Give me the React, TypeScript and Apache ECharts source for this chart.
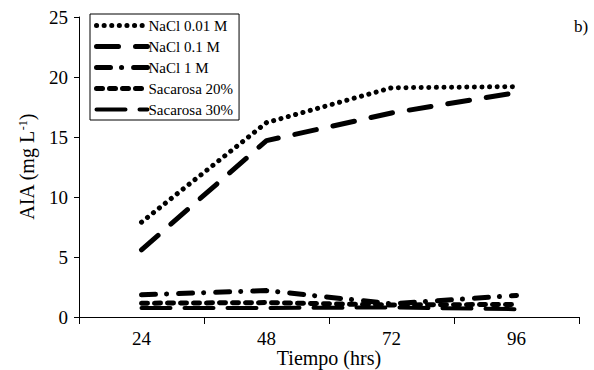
import React, { useEffect, useRef } from "react";
import * as echarts from "echarts";

const categories = ["24", "48", "72", "96"];
const seriesNames = ["NaCl 0.01 M", "NaCl 0.1 M", "NaCl 1 M", "Sacarosa 20%", "Sacarosa 30%"];
const nacl001 = [7.9, 16.2, 19.1, 19.2];
const nacl01 = [5.6, 14.7, 17.0, 18.7];
const nacl1 = [1.85, 2.2, 1.1, 1.8];
const sac20 = [1.15, 1.2, 1.0, 1.05];
const sac30 = [0.75, 0.75, 0.8, 0.65];

const FONT = "Liberation Serif";

const dashTypes: number[][] = [
  [0.1, 7.5],
  [22, 17],
  [14, 11, 0.1, 12],
  [6, 7],
  [29, 14],
];
const widths = [5, 5, 5, 5, 4];
const values = [nacl001, nacl01, nacl1, sac20, sac30];

export default function App() {
  const ref = useRef<HTMLDivElement>(null);
  useEffect(() => {
    if (!ref.current) return;
    const chart = echarts.init(ref.current, undefined, { renderer: "svg" });
    chart.setOption({
      animation: false,
      textStyle: { fontFamily: FONT },
      grid: { left: 79, right: 15, top: 17, bottom: 53, containLabel: false, outerBoundsMode: "none" },
      legend: {
        orient: "vertical",
        left: 90,
        top: 14,
        data: seriesNames.map((n, i) => ({
          name: n,
          lineStyle: { color: "#000", width: widths[i], type: dashTypes[i], cap: "round" },
          itemStyle: { color: "rgba(0,0,0,0)", borderColor: "rgba(0,0,0,0)", borderWidth: 0, opacity: 0 },
        })),
        borderColor: "#000",
        borderWidth: 1,
        padding: [4, 6, 3, 4],
        itemGap: 6,
        itemWidth: 51,
        itemHeight: 14,
        textStyle: { fontFamily: FONT, fontSize: 15, color: "#000", padding: [0, 0, 0, -4] },
      },
      graphic: [
        { type: "text", left: 574, top: 18, style: { text: "b)", font: `17px ${FONT}`, fill: "#000" } },
      ],
      xAxis: {
        type: "category",
        data: categories,
        boundaryGap: true,
        name: "Tiempo (hrs)",
        nameLocation: "middle",
        nameGap: 31,
        nameMoveOverlap: false,
        nameTextStyle: { fontFamily: FONT, fontSize: 20, color: "#000", lineHeight: 20 },
        axisLine: { lineStyle: { color: "#000", width: 1 } },
        axisTick: { show: true, length: 7, inside: false, lineStyle: { color: "#000" } },
        axisLabel: { fontFamily: FONT, fontSize: 19, color: "#000", margin: 12 },
      },
      yAxis: {
        type: "value",
        min: 0,
        max: 25,
        interval: 5,
        name: "{a|AIA (mg L}{s|-1}{a|)}",
        nameLocation: "middle",
        nameGap: 42,
        nameMoveOverlap: false,
        nameRotate: 90,
        nameTextStyle: {
          rich: {
            a: { fontFamily: FONT, fontSize: 20, color: "#000" },
            s: { fontFamily: FONT, fontSize: 12, color: "#000", verticalAlign: "top", padding: [0, 0, 8, 0] },
          },
        },
        splitLine: { show: false },
        axisLine: { show: true, lineStyle: { color: "#000", width: 1 } },
        axisTick: { show: true, length: 5, lineStyle: { color: "#000" } },
        axisLabel: { fontFamily: FONT, fontSize: 19, color: "#000", margin: 11 },
      },
      series: seriesNames.map((n, i) => ({
        name: n,
        type: "line",
        data: values[i],
        symbol: "none",
        showSymbol: false,
        lineStyle: { color: "#000", width: widths[i], type: dashTypes[i], cap: "round" },
        itemStyle: { color: "#000" },
      })),
    });
    return () => chart.dispose();
  }, []);
  return <div ref={ref} style={{ width: 594, height: 370, position: "absolute", left: 0, top: 0 }} />;
}
